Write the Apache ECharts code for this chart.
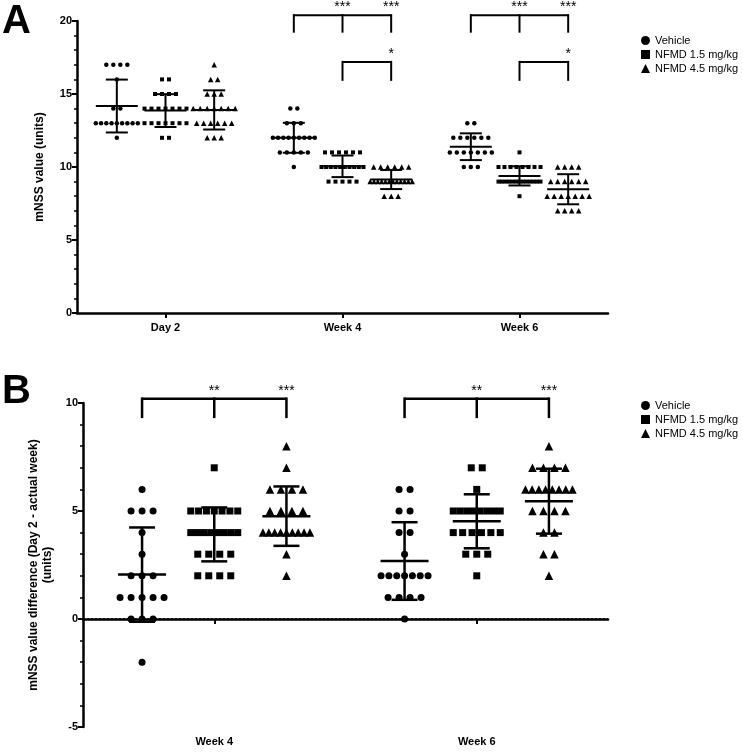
<!DOCTYPE html>
<html>
<head>
<meta charset="utf-8">
<script src="https://cdn.jsdelivr.net/npm/echarts@6/dist/echarts.min.js"></script>
<style>
html, body { margin: 0; padding: 0; background: #fff; }
#main { width: 743px; height: 752px; }
</style>
</head>
<body>
<div id="main"></div>
<script>
var FONT = '"Liberation Sans", Arial, Helvetica, sans-serif';

// categories / groups
var categoriesA = ['Day 2', 'Week 4', 'Week 6'];
var categoriesB = ['Week 4', 'Week 6'];
var groupNames = ['Vehicle', 'NFMD 1.5 mg/kg', 'NFMD 4.5 mg/kg'];

// A: mNSS value (units), one list per time point
var vehicleA = [
  [17, 17, 17, 17, 16, 14, 14, 13, 13, 13, 13, 13, 13, 13, 13, 13, 12],
  [14, 14, 13, 13, 13, 12, 12, 12, 12, 12, 12, 12, 12, 12, 11, 11, 11, 11, 11, 10],
  [13, 13, 12, 12, 12, 12, 12, 12, 11, 11, 11, 11, 11, 11, 11, 10, 10, 10]
];
var nfmd15A = [
  [16, 16, 15, 15, 15, 15, 14, 14, 14, 14, 14, 14, 14, 13, 13, 13, 13, 13, 13, 13, 12, 12],
  [11, 11, 11, 11, 11, 11, 10, 10, 10, 10, 10, 10, 10, 10, 10, 10, 9, 9, 9, 9, 9],
  [11, 10, 10, 10, 10, 10, 10, 10, 10, 9, 9, 9, 9, 9, 9, 9, 9, 9, 9, 9, 9, 9, 8]
];
var nfmd45A = [
  [17, 16, 16, 15, 15, 15, 14, 14, 14, 14, 14, 14, 14, 13, 13, 13, 13, 13, 13, 12, 12, 12],
  [10, 10, 10, 10, 10, 10, 9, 9, 9, 9, 9, 9, 9, 9, 9, 9, 9, 9, 8, 8, 8],
  [10, 10, 10, 10, 9, 9, 9, 9, 9, 9, 8, 8, 8, 8, 8, 8, 8, 7, 7, 7, 7]
];

// B: difference Day 2 - actual week
var vehicleB = [
  [6, 5, 5, 5, 4, 3, 2, 2, 2, 1, 1, 1, 1, 1, 0, 0, 0, -2],
  [6, 6, 5, 5, 4, 4, 3, 2, 2, 2, 2, 2, 2, 2, 1, 1, 1, 1, 0]
];
var nfmd15B = [
  [7, 5, 5, 5, 5, 5, 5, 5, 4, 4, 4, 4, 4, 4, 4, 4, 3, 3, 3, 3, 2, 2, 2, 2],
  [7, 7, 6, 5, 5, 5, 5, 5, 5, 5, 5, 4, 4, 4, 4, 4, 4, 3, 3, 3, 2]
];
var nfmd45B = [
  [8, 7, 6, 6, 6, 6, 5, 5, 5, 5, 4, 4, 4, 4, 4, 4, 4, 4, 4, 3, 2],
  [8, 7, 7, 7, 7, 6, 6, 6, 6, 6, 6, 6, 6, 5, 5, 5, 5, 4, 4, 3, 3, 2]
];

// significance brackets: [category, first group, last group, line level, drop end]
var bracketsA = [[1, 0, 2, 20.4, 19.2], [1, 1, 2, 17.2, 15.9], [2, 0, 2, 20.4, 19.2], [2, 1, 2, 17.2, 15.9]];
var starsA = [[1, 1, 20.4, '***'], [1, 2, 20.4, '***'], [1, 2, 17.2, '*'],
              [2, 1, 20.4, '***'], [2, 2, 20.4, '***'], [2, 2, 17.2, '*']];
var bracketsB = [[0, 0, 2, 10.2, 9.3], [1, 0, 2, 10.2, 9.3]];
var starsB = [[0, 1, 10.2, '**'], [0, 2, 10.2, '***'], [1, 1, 10.2, '**'], [1, 2, 10.2, '***']];

var icons = ['circle', 'rect', 'triangle'];

// layout
var gridA = { left: 77, top: 21, width: 531, height: 292 };
var gridB = { left: 83, top: 403, width: 525, height: 324 };
var pxA = gridA.width / categoriesA.length;
var pxB = gridB.width / categoriesB.length;
var GROUP_OFF = 0.275;

function xpos(cat, g) {
  return cat + 0.5 + (g - 1) * GROUP_OFF;
}

// spread equal values side by side (like a column scatter)
function swarm(values, center, pxPerUnit, step, maxW) {
  var counts = {}, seen = {};
  values.forEach(function (v) { counts[v] = (counts[v] || 0) + 1; });
  return values.map(function (v) {
    var n = counts[v];
    var i = seen[v] = (seen[v] === undefined ? 0 : seen[v] + 1);
    var s = n > 1 ? Math.min(step, maxW / (n - 1)) : 0;
    return [center + (i - (n - 1) / 2) * s / pxPerUnit, v];
  });
}

function meanSd(values) {
  var m = values.reduce(function (a, b) { return a + b; }, 0) / values.length;
  var ss = values.reduce(function (a, b) { return a + (b - m) * (b - m); }, 0);
  return [m, Math.sqrt(ss / (values.length - 1))];
}

function line(x1, y1, x2, y2, w) {
  return { type: 'line', shape: { x1: x1, y1: y1, x2: x2, y2: y2 }, style: { stroke: '#000', lineWidth: w } };
}

function errorBars(halfMean, halfCap, w) {
  return function (params, api) {
    var x = api.value(0), m = api.value(1), sd = api.value(2);
    var pm = api.coord([x, m]), pt = api.coord([x, m + sd]), pb = api.coord([x, m - sd]);
    return {
      type: 'group',
      children: [
        line(pt[0], pt[1], pb[0], pb[1], w),
        line(pm[0] - halfMean, pm[1], pm[0] + halfMean, pm[1], w),
        line(pt[0] - halfCap, pt[1], pt[0] + halfCap, pt[1], w),
        line(pb[0] - halfCap, pb[1], pb[0] + halfCap, pb[1], w)
      ]
    };
  };
}

function bracketRender(list, w) {
  return function (params, api) {
    var b = list[params.dataIndex];
    var a = api.coord([xpos(b[0], b[1]), b[3]]);
    var c = api.coord([xpos(b[0], b[2]), b[3]]);
    var kids = [line(a[0], a[1], c[0], c[1], w)];
    for (var g = b[1]; g <= b[2]; g++) {
      var p = api.coord([xpos(b[0], g), b[3]]);
      var q = api.coord([xpos(b[0], g), b[4]]);
      kids.push(line(p[0], p[1] - w / 2, q[0], q[1], w));
    }
    return { type: 'group', children: kids };
  };
}

function starRender(list) {
  return function (params, api) {
    var s = list[params.dataIndex];
    var p = api.coord([xpos(s[0], s[1]), s[2]]);
    return {
      type: 'text',
      x: p[0], y: p[1] - 1,
      style: { text: s[3], fill: '#000', font: '14px ' + FONT, align: 'center', verticalAlign: 'bottom' }
    };
  };
}

function buildPanel(sets, xIdx, yIdx, pxPerUnit, sizes, step, maxW, bar) {
  var out = [];
  var bars = [];
  sets.forEach(function (perCat, g) {
    var pts = [];
    perCat.forEach(function (vals, cat) {
      pts = pts.concat(swarm(vals, xpos(cat, g), pxPerUnit, step, maxW));
      var ms = meanSd(vals);
      bars.push([xpos(cat, g), ms[0], ms[1]]);
    });
    out.push({
      name: groupNames[g],
      type: 'scatter',
      xAxisIndex: xIdx, yAxisIndex: yIdx,
      symbol: icons[g],
      symbolSize: sizes[g],
      itemStyle: { color: '#000', opacity: 1 },
      silent: true,
      z: 3,
      data: pts
    });
  });
  out.push({
    type: 'custom',
    xAxisIndex: xIdx, yAxisIndex: yIdx,
    renderItem: errorBars(bar[0], bar[1], bar[2]),
    silent: true,
    z: 4,
    data: bars
  });
  return out;
}

var axisLine = { show: true, lineStyle: { color: '#000', width: 2.5 } };
var labelStyle = { color: '#000', fontFamily: FONT, fontWeight: 'bold', fontSize: 11 };

function catAxis(grid, cats) {
  return {
    gridIndex: grid, type: 'category', data: cats,
    axisLine: axisLine,
    axisTick: { show: true, alignWithLabel: true, length: 5, lineStyle: { color: '#000', width: 2 } },
    axisLabel: Object.assign({ margin: 9 }, labelStyle),
    splitLine: { show: false }
  };
}

function valAxis(grid, min, max, name, gap) {
  return {
    gridIndex: grid, type: 'value', min: min, max: max, interval: 5,
    name: name, nameLocation: 'middle', nameGap: gap, nameRotate: 90,
    nameTextStyle: { color: '#000', fontFamily: FONT, fontWeight: 'bold', fontSize: 12, lineHeight: 14 },
    axisLine: axisLine,
    axisTick: { show: true, length: 5, lineStyle: { color: '#000', width: 2 } },
    minorTick: { show: true, splitNumber: 5, length: 3, lineStyle: { color: '#000', width: 1.5 } },
    axisLabel: Object.assign({ margin: 5 }, labelStyle),
    splitLine: { show: false }
  };
}

var seriesA = buildPanel([vehicleA, nfmd15A, nfmd45A], 1, 0, pxA, [4.5, 4, 5.5], 7, 42, [21, 11, 2]);
var seriesB = buildPanel([vehicleB, nfmd15B, nfmd45B], 3, 1, pxB, [7, 7, 8.5], 11, 47, [24, 13, 2.5]);

seriesB[0].markLine = {
  silent: true, symbol: 'none', animation: false,
  label: { show: false },
  lineStyle: { color: '#000', width: 1.5, type: [2, 2] },
  data: [{ yAxis: 0 }]
};

var extra = [
  { type: 'custom', xAxisIndex: 1, yAxisIndex: 0, renderItem: bracketRender(bracketsA, 2), silent: true,
    data: bracketsA.map(function (b) { return [xpos(b[0], b[1]), b[3]]; }) },
  { type: 'custom', xAxisIndex: 1, yAxisIndex: 0, renderItem: starRender(starsA), silent: true,
    data: starsA.map(function (s) { return [xpos(s[0], s[1]), s[2]]; }) },
  { type: 'custom', xAxisIndex: 3, yAxisIndex: 1, renderItem: bracketRender(bracketsB, 2.5), silent: true,
    data: bracketsB.map(function (b) { return [xpos(b[0], b[1]), b[3]]; }) },
  { type: 'custom', xAxisIndex: 3, yAxisIndex: 1, renderItem: starRender(starsB), silent: true,
    data: starsB.map(function (s) { return [xpos(s[0], s[1]), s[2]]; }) }
];

function legend(top) {
  return {
    orient: 'vertical', left: 636, top: top,
    itemWidth: 9, itemHeight: 9, itemGap: 3,
    selectedMode: false,
    textStyle: { color: '#000', fontFamily: FONT, fontSize: 11 },
    data: groupNames.map(function (n, i) { return { name: n, icon: icons[i], itemStyle: { color: '#000' } }; })
  };
}

var chart = echarts.init(document.getElementById('main'), null, { renderer: 'canvas' });
chart.setOption({
  animation: false,
  backgroundColor: '#fff',
  grid: [
    Object.assign({ containLabel: false }, gridA),
    Object.assign({ containLabel: false }, gridB)
  ],
  xAxis: [
    catAxis(0, categoriesA),
    { gridIndex: 0, type: 'value', min: 0, max: categoriesA.length, show: false },
    catAxis(1, categoriesB),
    { gridIndex: 1, type: 'value', min: 0, max: categoriesB.length, show: false }
  ],
  yAxis: [
    valAxis(0, 0, 20, 'mNSS value (units)', 30),
    valAxis(1, -5, 10, 'mNSS value difference (Day 2 - actual week)\n(units)', 24)
  ],
  legend: [legend(30), legend(395)],
  graphic: [
    { type: 'text', left: 2, top: 2, style: { text: 'A', font: 'bold 40px ' + FONT, fill: '#000' } },
    { type: 'text', left: 2, top: 372, style: { text: 'B', font: 'bold 40px ' + FONT, fill: '#000' } }
  ],
  series: seriesA.concat(seriesB).concat(extra)
});
</script>
</body>
</html>
